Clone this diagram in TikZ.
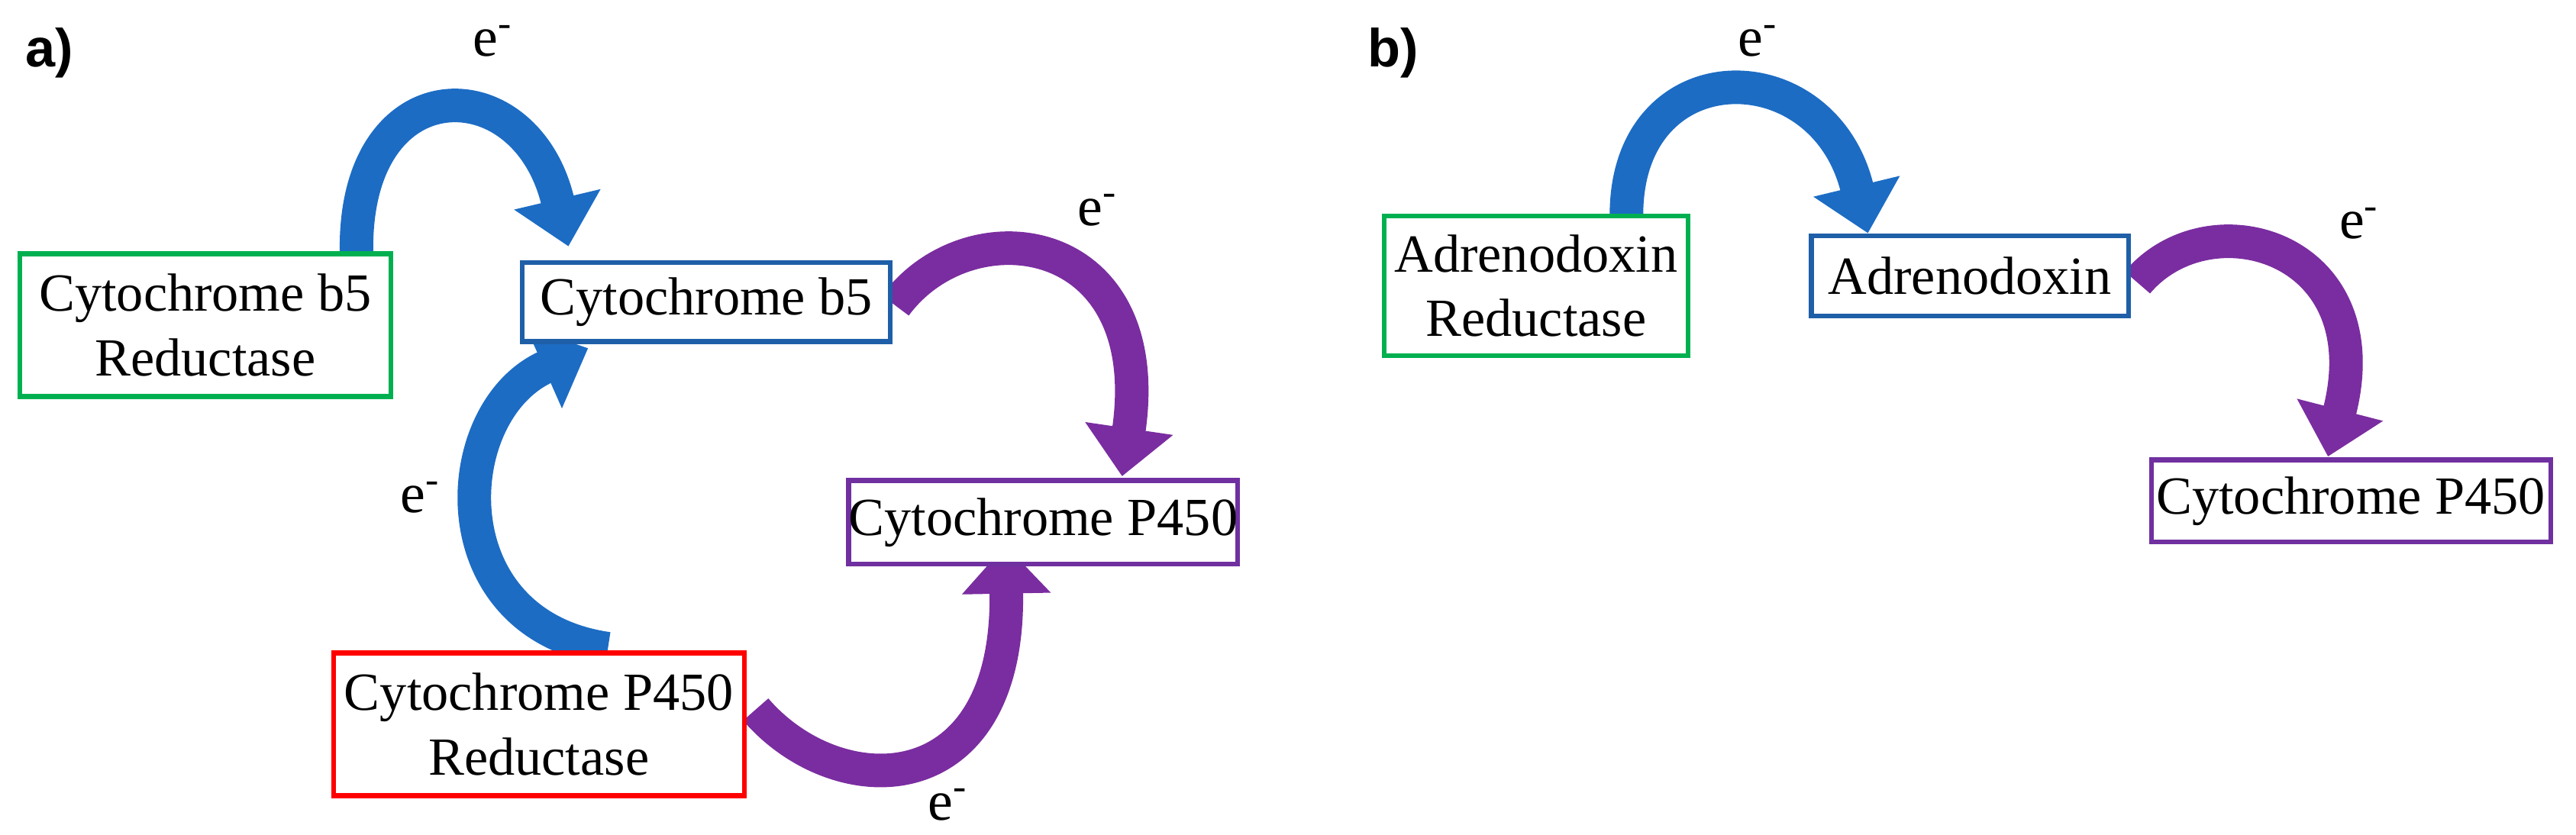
\documentclass[tikz,border=0pt]{standalone}
\usepackage{fontspec}
\setmainfont{Liberation Serif}
\newfontfamily\sansf{Liberation Sans}
\usetikzlibrary{arrows.meta}
\definecolor{cgreen}{HTML}{00B050}
\definecolor{cblue}{HTML}{1F5FA8}
\definecolor{cred}{HTML}{FF0000}
\definecolor{cpurple}{HTML}{7030A0}
\definecolor{ablue}{HTML}{1C6CC4}
\definecolor{apurple}{HTML}{7A2DA0}
\begin{document}
\begin{tikzpicture}[x=0.021518cm,y=-0.021518cm,
  box/.style={draw,line width=1.8pt,fill=white,align=center,inner sep=0pt,font=\fontsize{20}{24}\selectfont},
  el/.style={font=\fontsize{21}{24}\selectfont},
  lab/.style={font=\sansf\bfseries\fontsize{20}{24}\selectfont},
  barr/.style={line width=12.5pt,-{Triangle[width=32pt,length=18pt]}},
]
\useasboundingbox (0,0) rectangle (1568,508);
% coordinates for arrow ends
\coordinate (a1s) at (217,154);
\coordinate (a1e) at (346,150);
\coordinate (a2s) at (545,186);
\coordinate (a2e) at (683,290);
\coordinate (a3s) at (370,395);
\coordinate (a3e) at (358,212);
\coordinate (a4s) at (460,432);
\coordinate (a4e) at (612,332);
\coordinate (b1s) at (990,131);
\coordinate (b1e) at (1137,142);
\coordinate (b2s) at (1301,172);
\coordinate (b2e) at (1417,278);
% arrows
\draw[barr,ablue] (a1s) .. controls (215,40) and (320,40) .. (a1e);
\draw[barr,apurple] (a2s) .. controls (590,125) and (705,140) .. (a2e);
\draw[barr,ablue] (a3s) .. controls (265,380) and (272,250) .. (a3e);
\draw[barr,apurple] (a4s) .. controls (510,490) and (615,490) .. (a4e);
\draw[barr,ablue] (b1s) .. controls (990,30) and (1110,30) .. (b1e);
\draw[barr,apurple] (b2s) .. controls (1345,120) and (1450,150) .. (b2e);
% panel a boxes
\node[box,draw=cgreen,minimum width=226*0.021518cm,minimum height=87*0.021518cm] (gr) at (125,198) {Cytochrome b5\\Reductase};
\node[box,draw=cblue,minimum width=224*0.021518cm,minimum height=48*0.021518cm] (b5) at (430,184) {Cytochrome b5};
\node[box,draw=cpurple,minimum width=204*0.021518cm,minimum height=51*0.021518cm] (p450) at (635,318) {Cytochrome P450};
\node[box,draw=cred,minimum width=250*0.021518cm,minimum height=87*0.021518cm] (red) at (328,441) {Cytochrome P450\\Reductase};
% panel b boxes
\node[box,draw=cgreen,minimum width=185*0.021518cm,minimum height=85*0.021518cm] (adr) at (935,174) {Adrenodoxin\\Reductase};
\node[box,draw=cblue,minimum width=193*0.021518cm,minimum height=49*0.021518cm] (ad) at (1199,168) {Adrenodoxin};
\node[box,draw=cpurple,minimum width=243*0.021518cm,minimum height=50*0.021518cm] (bp) at (1431,305) {Cytochrome P450};
% labels
\node[lab] (la) at (30,32) {a)};
\node[lab] (lb) at (848,32) {b)};
\node[el] (e1) at (300,25) {e\textsuperscript{-}};
\node[el] (e2) at (668,128) {e\textsuperscript{-}};
\node[el] (e3) at (256,303) {e\textsuperscript{-}};
\node[el] (e4) at (577,490) {e\textsuperscript{-}};
\node[el] (e5) at (1070,25) {e\textsuperscript{-}};
\node[el] (e6) at (1436,136) {e\textsuperscript{-}};
\end{tikzpicture}
\end{document}
